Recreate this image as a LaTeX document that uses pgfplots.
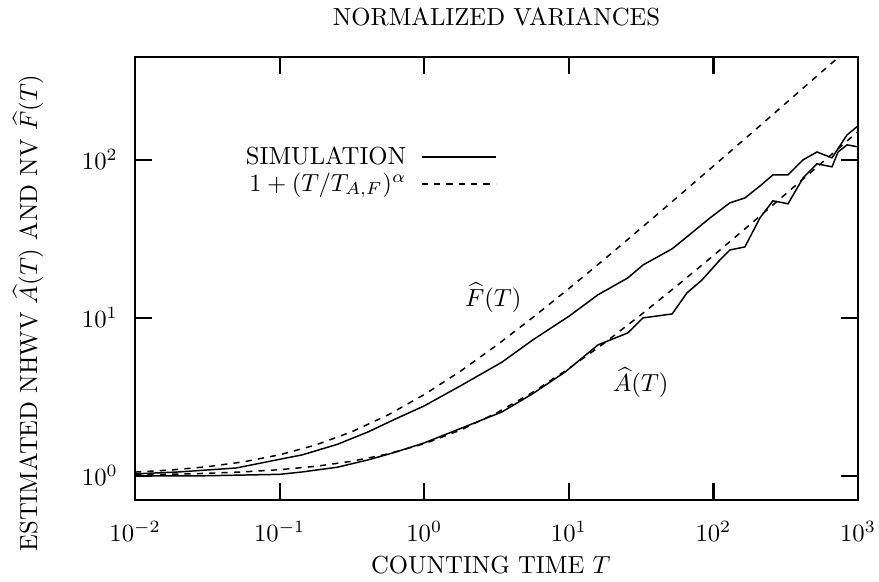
\documentclass[border=0pt]{standalone}
\usepackage{pgfplots}
\pgfplotsset{compat=1.18}

% simulated curves
\pgfplotstableread{
T      F
0.01   1.03
0.02   1.059
0.05   1.122
0.1    1.274
0.143  1.358
0.251  1.585
0.408  1.897
0.631  2.291
1      2.773
1.78   3.715
3.45   5.248
5.62   7.244
10     10.23
15.9   14.0
25.6   17.91
32.6   21.63
51.8   27.35
65.6   32.58
94.8   42.95
130    53.46
165    57.41
210    68.39
258    80.35
328    80.35
417    100
520    112.2
661    103.0
840    143.9
1000   164.1
}\simF

\pgfplotstableread{
T      A
0.01   1.0
0.0316 1.002
0.1    1.023
0.143  1.059
0.251  1.135
0.408  1.262
0.631  1.413
1      1.618
1.78   1.995
3.45   2.541
5.62   3.311
9.44   4.55
15.9   6.745
25.6   8.035
32.6   10.0
51.8   10.59
65.6   14.39
83.4   17.38
111    23.28
130    26.9
165    28.12
210    42.95
258    55.08
328    52.72
417    76.91
520    94.41
661    90.36
728    112.2
840    124.5
1000   120.8
}\simA

% fitted curves 1+(T/T_{A,F})^alpha, values read at quarter decades
\pgfplotstableread{
T       F       A
0.01    1.057   1.015
0.0178  1.090   1.024
0.0316  1.143   1.038
0.0562  1.227   1.060
0.1     1.360   1.095
0.178   1.570   1.150
0.316   1.904   1.238
0.562   2.432   1.378
1       3.270   1.598
1.78    4.597   1.948
3.16    6.70    2.503
5.62    10.04   3.38
10      15.32   4.78
17.8    23.70   6.98
31.6    36.97   10.48
56.2    58.0    16.03
100     91.4    24.8
178     144.2   38.8
316     228     60.8
562     361     95.8
1000    571     151.3
}\fit

\begin{document}
\begin{tikzpicture}
\begin{axis}[
    name=ax,
    xmode=log, ymode=log,
    scale only axis,
    width=292.7pt, height=179.4pt,
    xmin=0.01, xmax=1000,
    ymin=0.705, ymax=449,
    xtick={0.01,0.1,1,10,100,1000},
    ytick={1,10,100},
    xminorticks=false, yminorticks=false,
    major tick length=7pt,
    tick style={black, line width=0.9pt},
    axis line style={line width=0.9pt},
    yticklabel style={xshift=-3.5pt},
    xticklabel style={inner sep=0pt, yshift=-8.5pt},
    every axis title/.style={at={(axis description cs:0.5,1.07)}, anchor=base, inner sep=0pt},
    every axis x label/.style={at={(axis description cs:0.492,-0.167)}, anchor=base, inner sep=0pt},
    every axis y label/.style={at={(axis description cs:-0.1355,0.422)}, rotate=90, anchor=base, inner sep=0pt},
    title={NORMALIZED VARIANCES},
    xlabel={COUNTING TIME $T$},
    ylabel={ESTIMATED NHWV $\widehat{A}(T)$ AND NV $\widehat{F}(T)$},
    legend plot pos=right,
    legend cell align=right,
    legend image code/.code={\draw[#1] (0pt,0pt) -- (30pt,0pt);},
    legend style={draw=none, fill=none, at={(axis description cs:0.5007,0.743)},
        anchor=east, inner sep=0pt, row sep=-2pt, column sep=4pt},
  ]
  \addplot[black, line width=0.6pt] table[x=T, y=F] {\simF};
  \addplot[black, line width=0.6pt, dash pattern=on 2.5pt off 2.5pt] table[x=T, y=F] {\fit};
  \addplot[black, line width=0.6pt, forget plot] table[x=T, y=A] {\simA};
  \addplot[black, line width=0.6pt, dash pattern=on 2.5pt off 2.5pt, forget plot] table[x=T, y=A] {\fit};
  \legend{SIMULATION, $1+(T/T_{A,F})^{\alpha}$}
  \node at (axis cs:3.0,13.4) {$\widehat{F}(T)$};
  \node at (axis cs:31.4,3.9) {$\widehat{A}(T)$};
\end{axis}
\path ([shift={(-54.7pt,-33.2pt)}]ax.south west) rectangle ([shift={(301.2pt,202.4pt)}]ax.south west);
\end{tikzpicture}
\end{document}
